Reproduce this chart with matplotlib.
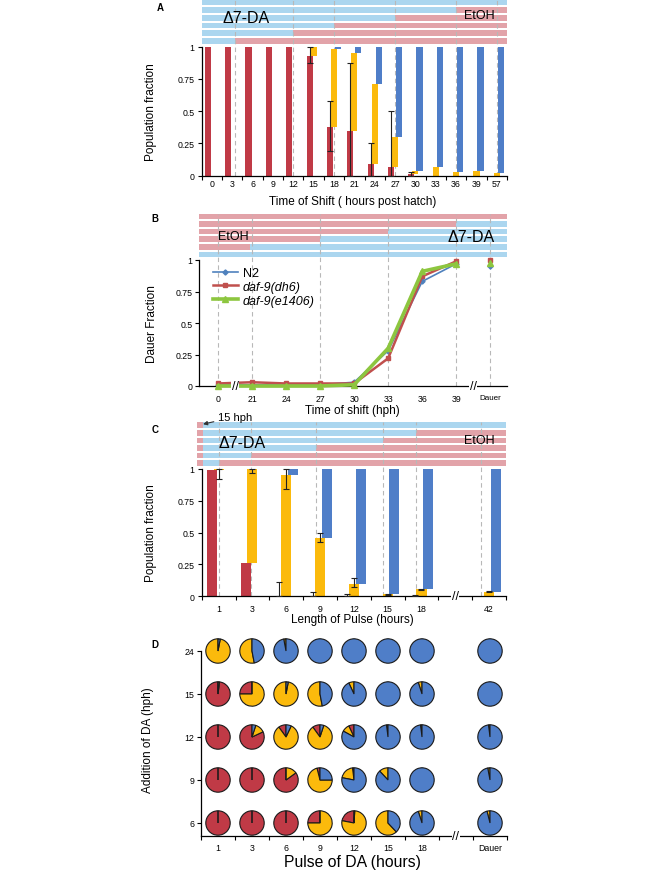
import numpy as np
import matplotlib.pyplot as plt
from matplotlib.transforms import ScaledTranslation

plt.rcParams['font.family'] = ['Liberation Sans', 'DejaVu Sans']
plt.rcParams['axes.linewidth'] = 0.9

RED = '#c03a46'
YEL = '#fbba0c'
BLU = '#4f7ec8'
SKY = '#abd6ef'
PINK = '#e2a3a9'
DASH = '#b8b8b8'

# panel A: shift from DA to EtOH
shift_a = ['0', '3', '6', '9', '12', '15', '18', '21', '24', '27', '30', '33', '36', '39', '57']
red_a = [1, 1, 1, 1, 1, 0.93, 0.38, 0.35, 0.09, 0.07, 0.01, 0, 0, 0, 0]
yel_a = [0, 0, 0, 0, 0, 0.07, 0.60, 0.60, 0.62, 0.23, 0.03, 0.07, 0.03, 0.04, 0.02]
blu_a = [0, 0, 0, 0, 0, 0, 0.02, 0.05, 0.29, 0.70, 0.96, 0.93, 0.97, 0.96, 0.98]
err_dn_a = [0, 0, 0, 0, 0, 0.06, 0.19, 0.35, 0.09, 0.07, 0.01, 0, 0, 0, 0]
err_up_a = [0, 0, 0, 0, 0, 0.07, 0.20, 0.52, 0.16, 0.43, 0.02, 0, 0, 0, 0]
switch_a = [1.15, 4, 6, 9, 12, 14.5]   # stripes bottom -> top
dash_a = [1.15, 4, 6, 9, 12, 14]

# panel B: shift from EtOH to DA
shift_b = ['0', '21', '24', '27', '30', '33', '36', '39', 'Dauer']
n2 = [0.01, 0.01, 0.01, 0.01, 0.03, 0.28, 0.83, 0.97, 0.95]
dh6 = [0.02, 0.03, 0.02, 0.02, 0.02, 0.22, 0.87, 0.99, 1.0]
e1406 = [0.0, 0.0, 0.0, 0.0, 0.01, 0.30, 0.91, 0.97, 0.98]
switch_b = [-0.55, 0.95, 3, 5, 7, 8.5]
dash_b = [0, 1, 3, 5, 7, 8]

# panel C: pulse of DA from 15 hph
pulse_c = ['1', '3', '6', '9', '12', '15', '18', '', '42']
red_c = [0.99, 0.26, 0, 0, 0, 0, 0.005, 0, 0]
yel_c = [0.01, 0.74, 0.95, 0.46, 0.10, 0.015, 0.05, 0, 0.035]
blu_c = [0, 0, 0.05, 0.54, 0.90, 0.985, 0.945, 0, 0.965]
yerr_dn_c = [0.08, 0.03, 0.11, 0.03, 0.03, 0.005, 0.005, 0, 0.005]
yerr_up_c = [0, 0, 0.05, 0.04, 0.04, 0.005, 0.005, 0, 0.005]
rerr_up_c = [0, 0, 0.11, 0.03, 0.02, 0, 0.005, 0, 0]
switch_c = [0, 0.96, 2.88, 4.86, 5.84, 8.5]
dash_c = [0, 0.96, 2.88, 4.86, 5.84, 7.77]

# panel D: pies, rows = addition of DA (6, 9, 12, 15, 24), cols = pulse
pulse_d = ['1', '3', '6', '9', '12', '15', '18', '', 'Dauer']
add_d = ['6', '9', '12', '15', '24']
col_d = [0, 1, 2, 3, 4, 5, 6, 8]
red_d = [[1, 1, 1, 0.25, 0.22, 0, 0, 0],
         [1, 1, 0.85, 0.04, 0.02, 0, 0, 0],
         [1, 0.82, 0.10, 0.10, 0.07, 0, 0, 0],
         [0.98, 0.25, 0, 0, 0, 0, 0, 0],
         [0, 0, 0, 0, 0, 0, 0, 0]]
yel_d = [[0, 0, 0, 0.75, 0.77, 0.62, 0.05, 0.04],
         [0, 0, 0.15, 0.71, 0.20, 0.12, 0, 0.03],
         [0, 0.13, 0.83, 0.85, 0.10, 0.02, 0.02, 0.02],
         [0.02, 0.75, 0.97, 0.53, 0.07, 0, 0.05, 0],
         [0.97, 0.53, 0.03, 0, 0, 0, 0, 0]]
blu_d = [[0, 0, 0, 0, 0.01, 0.38, 0.95, 0.96],
         [0, 0, 0, 0.25, 0.78, 0.88, 1, 0.97],
         [0, 0.05, 0.07, 0.05, 0.83, 0.98, 0.98, 0.98],
         [0, 0, 0.03, 0.47, 0.93, 1, 0.95, 1],
         [0.03, 0.47, 0.97, 1, 1, 1, 1, 1]]

W, H = 653, 879
fig = plt.figure(figsize=(W / 100, H / 100), dpi=100)
TOP = 1.37


def px(x, y):
    return x / W, 1 - y / H


def panel(left, right, y0, unit, ytop, ybot=0.0):
    rect = [left / W, (H - y0 + ybot * unit) / H, (right - left) / W, (ytop - ybot) * unit / H]
    ax = fig.add_axes(rect)
    ax.set_ylim(ybot, ytop)
    ax.spines[['top', 'right']].set_visible(False)
    return ax


def header(ax, switch, c1, c2, x0, x1, stub=None):
    for i, s in enumerate(switch):
        yc = 1.045 + 0.06 * i
        start = x0
        if stub is not None:
            ax.barh(yc, stub[1] - stub[0], left=stub[0], height=0.044, color=c2, clip_on=False, zorder=1)
            start = stub[1]
        ax.barh(yc, s - start, left=start, height=0.044, color=c1, clip_on=False, zorder=1)
        ax.barh(yc, x1 - s, left=s, height=0.044, color=c2, clip_on=False, zorder=1)


def yfrac(ax):
    ax.set_yticks([0, 0.25, 0.5, 0.75, 1], ['0', '0.25', '0.5', '0.75', '1'])
    ax.tick_params(axis='y', length=3, width=0.8, labelsize=6.3, pad=2)
    ax.spines['left'].set_bounds(0, 1)


def label(ax, xlab, xpos, ylab, ypos, xsize=8.5):
    ax.set_xlabel(xlab, fontsize=xsize)
    ax.xaxis.set_label_coords(*px(*xpos), transform=fig.transFigure)
    ax.xaxis.label.set_va('center')
    ax.set_ylabel(ylab, fontsize=8.5)
    ax.yaxis.set_label_coords(*px(*ypos), transform=fig.transFigure)
    ax.yaxis.label.set_va('center')


# ---------- A
ax = panel(201.7, 507, 176.7, 129, TOP)
xa = np.arange(len(shift_a))
header(ax, switch_a, SKY, PINK, -0.5, 14.5)
ax.vlines(dash_a, 0, 1.367, colors=DASH, linestyles=(0, (4, 3)), linewidth=0.8, zorder=1.5)
ax.bar(xa - 0.2, red_a, 0.3, color=RED, zorder=2)
ax.bar(xa, yel_a, 0.3, bottom=red_a, color=YEL, zorder=2)
ax.bar(xa + 0.2, blu_a, 0.3, bottom=np.add(red_a, yel_a), color=BLU, zorder=2)
m = np.add(err_dn_a, err_up_a) > 0
ax.errorbar(xa[m] - 0.2, np.array(red_a)[m], yerr=[np.array(err_dn_a)[m], np.array(err_up_a)[m]],
            fmt='none', ecolor='#222222', elinewidth=0.8, capsize=2, capthick=0.8, zorder=3)
ax.set_xlim(-0.5, 14.5)
ax.set_xticks(xa, shift_a)
ax.set_xticks(np.arange(-0.5, 15), minor=True)
ax.tick_params(axis='x', which='major', length=0, labelsize=6.3, pad=2.5)
ax.tick_params(axis='x', which='minor', length=3, width=0.8)
yfrac(ax)
ax.text(1.67, 1.23, 'Δ7-DA', fontsize=11.5, ha='center', va='center')
ax.text(13.16, 1.245, 'EtOH', fontsize=9, ha='center', va='center')
label(ax, 'Time of Shift ( hours post hatch)', (353, 202), 'Population fraction', (151, 112))
fig.text(*px(160, 8), 'A', fontsize=7, fontweight='bold', ha='center', va='center')

# ---------- B
ax = panel(199.3, 507.3, 387, 126, TOP)
xb = np.arange(len(shift_b))
header(ax, switch_b, PINK, SKY, -0.55, 8.5)
ax.vlines(dash_b, 0, 1.367, colors=DASH, linestyles=(0, (4, 3)), linewidth=0.8, zorder=1.5)
series = [(n2, 'N2', '#4f81bd', 'D', 2.6, 1.2),
          (dh6, 'daf-9(dh6)', '#c0504d', 's', 3.2, 1.8),
          (e1406, 'daf-9(e1406)', '#8dc63f', '^', 4.2, 2.6)]
for vals, name, col, mk, ms, lw in series:
    ax.plot(xb[:8], vals[:8], color=col, marker=mk, ms=ms, lw=lw, label=name, clip_on=False, zorder=3)
    ax.plot(xb[8:], vals[8:], color=col, marker=mk, ms=ms, lw=0, clip_on=False, zorder=3)
leg = ax.legend(loc='upper left', bbox_to_anchor=(0.044, 0.69), frameon=False, fontsize=9,
                handlelength=2.0, labelspacing=0.15, borderaxespad=0, borderpad=0, handletextpad=0.4)
for t in leg.get_texts()[1:]:
    t.set_style('italic')
for xbk in [0.5, 7.5]:
    ax.text(xbk, 0, '//', fontsize=9, ha='center', va='center', zorder=4,
            bbox=dict(facecolor='white', edgecolor='none', pad=0.3))
ax.set_xlim(-0.55, 8.5)
ax.set_xticks(xb, shift_b)
ax.tick_params(axis='x', length=0, labelsize=6.3, pad=5.5)
ax.get_xticklabels()[-1].set_fontsize(5.8)
yfrac(ax)
ax.text(0.44, 1.19, 'EtOH', fontsize=9, ha='center', va='center')
ax.text(7.44, 1.19, 'Δ7-DA', fontsize=11.5, ha='center', va='center')
label(ax, 'Time of shift (hph)', (352, 411), 'Dauer Fraction', (152, 324))
fig.text(*px(155, 219), 'B', fontsize=7, fontweight='bold', ha='center', va='center')

# ---------- C
ax = panel(201.7, 506, 597.3, 127.3, TOP)
xc = np.arange(len(pulse_c))
header(ax, switch_c, SKY, PINK, -0.5, 8.5, stub=(-0.63, -0.45))
ax.vlines(dash_c, 0, 1.367, colors=DASH, linestyles=(0, (4, 3)), linewidth=0.8, zorder=1.5)
ax.bar(xc - 0.2, red_c, 0.3, color=RED, zorder=2)
ax.bar(xc, yel_c, 0.3, bottom=red_c, color=YEL, zorder=2)
ax.bar(xc + 0.2, blu_c, 0.3, bottom=np.add(red_c, yel_c), color=BLU, zorder=2)
m = np.add(yerr_dn_c, yerr_up_c) > 0
ytop_c = np.add(red_c, yel_c)
ax.errorbar(xc[m], ytop_c[m], yerr=[np.array(yerr_dn_c)[m], np.array(yerr_up_c)[m]],
            fmt='none', ecolor='#222222', elinewidth=0.8, capsize=2, capthick=0.8, zorder=3)
m = np.array(rerr_up_c) > 0
ax.errorbar(xc[m] - 0.2, np.array(red_c)[m], yerr=[np.zeros(m.sum()), np.array(rerr_up_c)[m]],
            fmt='none', ecolor='#222222', elinewidth=0.8, capsize=2, capthick=0.8, zorder=3)
ax.text(7, 0, '//', fontsize=9, ha='center', va='center', zorder=4,
        bbox=dict(facecolor='white', edgecolor='none', pad=0.3))
ax.set_xlim(-0.5, 8.5)
ax.set_xticks(xc, pulse_c)
ax.set_xticks(np.arange(-0.5, 9), minor=True)
ax.tick_params(axis='x', which='major', length=0, labelsize=6.3, pad=5.5)
ax.tick_params(axis='x', which='minor', length=3, width=0.8)
yfrac(ax)
ax.text(0.69, 1.21, 'Δ7-DA', fontsize=11.5, ha='center', va='center')
ax.text(7.7, 1.23, 'EtOH', fontsize=9, ha='center', va='center')
ax.annotate('15 hph', xy=(-0.46, 1.352), xytext=(-0.02, 1.41), fontsize=8, ha='left', va='center',
            annotation_clip=False,
            arrowprops=dict(arrowstyle='-|>', color='#333333', lw=0.8, mutation_scale=6, shrinkA=1, shrinkB=0))
label(ax, 'Length of Pulse (hours)', (352, 620), 'Population fraction', (151, 533))
fig.text(*px(155, 430), 'C', fontsize=7, fontweight='bold', ha='center', va='center')

# ---------- D
ax = panel(201, 507, 824, 43, 4.35, ybot=-0.3)
for r in range(len(add_d)):
    for c, xp in enumerate(col_d):
        tr = fig.dpi_scale_trans + ScaledTranslation(xp, r, ax.transData)
        ax.pie([red_d[r][c], yel_d[r][c], blu_d[r][c]], colors=[RED, YEL, BLU], radius=0.122,
               startangle=90, counterclock=True, frame=True,
               wedgeprops=dict(transform=tr, edgecolor='#1a1a1a', linewidth=0.8))
ax.set_aspect('auto')
ax.set_xlim(-0.5, 8.5)
ax.set_ylim(-0.3, 4.35)
ax.spines[['top', 'right']].set_visible(False)
ax.spines['left'].set_bounds(-0.3, 4)
ax.set_xticks(np.arange(len(pulse_d)), pulse_d)
ax.set_xticks(np.arange(-0.5, 9), minor=True)
ax.tick_params(axis='x', which='major', length=0, labelsize=6.3, pad=5)
ax.tick_params(axis='x', which='minor', length=3, width=0.8)
ax.get_xticklabels()[-1].set_fontsize(6.3)
ax.set_yticks(np.arange(len(add_d)), add_d)
ax.tick_params(axis='y', length=3, width=0.8, labelsize=6.3, pad=2)
ax.text(7, -0.3, '//', fontsize=9, ha='center', va='center', zorder=4,
        bbox=dict(facecolor='white', edgecolor='none', pad=0.3), clip_on=False)
label(ax, 'Pulse of DA (hours)', (352, 863), 'Addition of DA (hph)', (148, 740), xsize=11.3)
fig.text(*px(155, 645), 'D', fontsize=7, fontweight='bold', ha='center', va='center')

fig.savefig('out.png', dpi=100)
